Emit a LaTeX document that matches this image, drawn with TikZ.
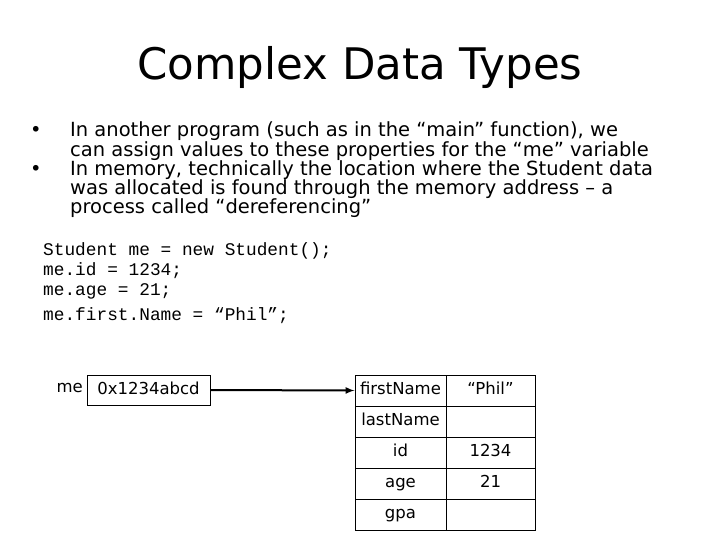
\documentclass[tikz,border=0pt]{standalone}
\usepackage{fontspec}
\setmainfont{DejaVu Sans}
\setmonofont{Liberation Mono}
\begin{document}
\begin{tikzpicture}[x=1pt,y=-1pt,
  cell/.style={draw,line width=1pt,minimum height=31pt,inner sep=0pt,text height=12pt,text depth=3.5pt,font=\fontsize{16.5}{19}\selectfont},
  txt/.style={anchor=west,inner sep=0pt,text height=13pt,text depth=4pt,font=\fontsize{19.5}{21}\selectfont},
  code/.style={anchor=west,inner sep=0pt,text height=11pt,text depth=3pt,font=\ttfamily\fontsize{17.8}{19}\selectfont}]
\useasboundingbox (0,0) rectangle (720,540);
\node (title) at (360,68) {\fontsize{43.5}{50}\selectfont Complex Data Types};
\node[txt] (b1) at (30,132) {•};
\node[txt] (l1) at (70,132) {In another program (such as in the “main” function), we};
\node[txt] (l2) at (70,152) {can assign values to these properties for the “me” variable};
\node[txt] (b2) at (30,171) {•};
\node[txt] (l3) at (70,171) {In memory, technically the location where the Student data};
\node[txt] (l4) at (70,190) {was allocated is found through the memory address – a};
\node[txt] (l5) at (70,209) {process called “dereferencing”};
\node[code] (c1) at (43,251) {Student me = new Student();};
\node[code] (c2) at (43,271) {me.id = 1234;};
\node[code] (c3) at (43,291) {me.age = 21;};
\node[code] (c4) at (43,316) {me.first.Name = “Phil”;};
\node[anchor=east,inner sep=0pt,font=\fontsize{16.5}{19}\selectfont] (me) at (83,388) {me};
\node[cell,minimum width=123pt,minimum height=30pt] (addr) at (148.5,390) {0x1234abcd};
\foreach \i/\a/\b in {0/firstName/“Phil”,1/lastName/,2/id/1234,3/age/21,4/gpa/}{
  \node[cell,minimum width=91pt] (k\i) at (400.5,{390.5+31*\i}) {\a};
  \node[cell,minimum width=89pt] (v\i) at (490.5,{390.5+31*\i}) {\b};
}
\draw[line width=2pt,-latex] (addr.east) -- (k0.west);
\end{tikzpicture}
\end{document}
